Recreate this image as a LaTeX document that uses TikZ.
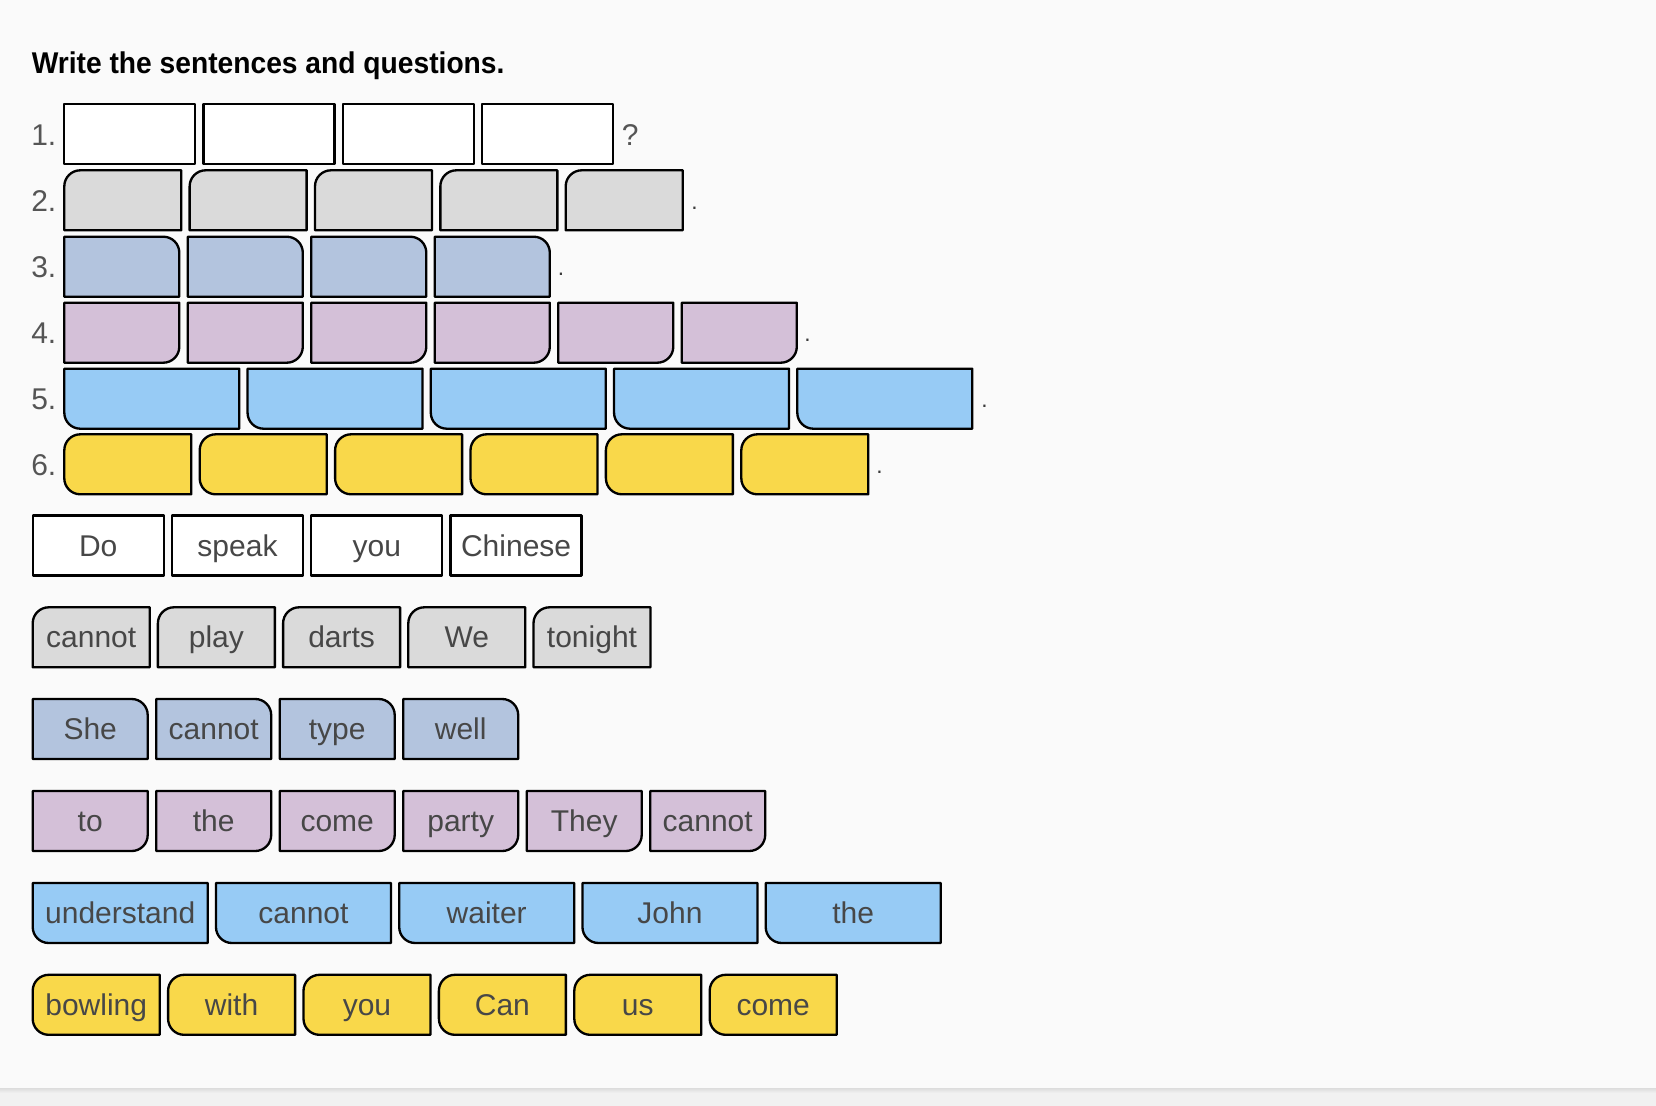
\documentclass[tikz,border=0pt]{standalone}
\usepackage{fontspec}
\setmainfont{Liberation Sans}
\newfontfamily\titlefont[FakeStretch=0.94]{Liberation Sans}
\definecolor{pagebg}{HTML}{FAFAFA}
\definecolor{bandc}{HTML}{F1F1F1}
\definecolor{bandtop}{HTML}{DCDCDC}
\definecolor{grayc}{HTML}{DADADA}
\definecolor{steelc}{HTML}{B3C4DE}
\definecolor{thistlec}{HTML}{D4C0D8}
\definecolor{skyc}{HTML}{97CBF5}
\definecolor{yellowc}{HTML}{F9D84A}
\definecolor{wordc}{HTML}{474747}
\definecolor{labelc}{HTML}{555555}
\definecolor{dotc}{HTML}{3A3A3A}
\tikzset{
  tileline/.style={draw=black, line width=1.75pt, line join=round},
  tiletext/.style={inner sep=0pt, text height=30.5pt, text depth=14.5pt,
    minimum height=45pt, font=\fontsize{22.5pt}{27pt}\selectfont, text=wordc, anchor=center},
  rowlabel/.style={inner sep=0pt, anchor=base west, font=\fontsize{22.5pt}{27pt}\selectfont, text=labelc},
  enddot/.style={inner sep=0pt, anchor=base west, font=\fontsize{17pt}{20pt}\selectfont, text=dotc},
  titletext/.style={inner sep=0pt, anchor=base west, font=\titlefont\bfseries\fontsize{22.5pt}{27pt}\selectfont, text=black}
}
% shapes: #1 left, #2 top, #3 width, #4 fill (pixel units, y down)
\newcommand\shapeSQ[4]{\path[tileline, fill=#4] (#1,#2) rectangle ({#1+#3},{#2+60});}
\newcommand\shapeTL[4]{\path[tileline, fill=#4] (#1,{#2+60}) -- (#1,{#2+16})
  arc[start angle=180, end angle=90, radius=12pt] -- ({#1+#3},#2) -- ({#1+#3},{#2+60}) -- cycle;}
\newcommand\shapeTR[4]{\path[tileline, fill=#4] (#1,{#2+60}) -- (#1,#2) -- ({#1+#3-16},#2)
  arc[start angle=90, end angle=0, radius=12pt] -- ({#1+#3},{#2+60}) -- cycle;}
\newcommand\shapeBR[4]{\path[tileline, fill=#4] (#1,#2) -- ({#1+#3},#2) -- ({#1+#3},{#2+44})
  arc[start angle=0, end angle=-90, radius=12pt] -- (#1,{#2+60}) -- cycle;}
\newcommand\shapeBL[4]{\path[tileline, fill=#4] (#1,#2) -- ({#1+#3},#2) -- ({#1+#3},{#2+60}) -- ({#1+16},{#2+60})
  arc[start angle=270, end angle=180, radius=12pt] -- cycle;}
\newcommand\shapeLT[4]{\path[tileline, fill=#4] ({#1+#3},#2) -- ({#1+#3},{#2+60}) -- ({#1+16},{#2+60})
  arc[start angle=270, end angle=180, radius=12pt] -- (#1,{#2+16})
  arc[start angle=180, end angle=90, radius=12pt] -- cycle;}
% tile: #1 name, #2 shape macro, #3 left, #4 top, #5 width, #6 fill, #7 text
\newcommand\tile[7]{#2{#3}{#4}{#5}{#6}
  \node[tiletext, minimum width={#5*0.75pt}] (#1) at ({#3+#5/2},{#4+30}) {#7};}
\begin{document}
\begin{tikzpicture}[x=0.75pt, y=-0.75pt]
\useasboundingbox (0,0) rectangle (1656,1106);
\fill[pagebg] (0,0) rectangle (1656,1106);
\fill[bandc] (0,1092) rectangle (1656,1106);
\shade[top color=bandtop, bottom color=bandc] (0,1088) rectangle (1656,1093);
% title
\node[titletext] (title) at (31.5,73.3) {Write the sentences and questions.};
% answer rows
\node[rowlabel] (l1) at (31,145) {1.};
\node[rowlabel] (l2) at (31,211) {2.};
\node[rowlabel] (l3) at (31,277.4) {3.};
\node[rowlabel] (l4) at (31,343.4) {4.};
\node[rowlabel] (l5) at (31,409.4) {5.};
\node[rowlabel] (l6) at (31,475) {6.};
\foreach \i in {0,...,3} {\tile{a1-\i}{\shapeSQ}{64.3+\i*139.3}{104.3}{131}{white}{}}
\foreach \i in {0,...,4} {\tile{a2-\i}{\shapeTL}{64.3+\i*125.35}{170.3}{117}{grayc}{}}
\foreach \i in {0,...,3} {\tile{a3-\i}{\shapeTR}{64.3+\i*123.5}{236.7}{115}{steelc}{}}
\foreach \i in {0,...,5} {\tile{a4-\i}{\shapeBR}{64.3+\i*123.5}{302.7}{115}{thistlec}{}}
\foreach \i in {0,...,4} {\tile{a5-\i}{\shapeBL}{64.3+\i*183.25}{368.7}{175}{skyc}{}}
\foreach \i in {0,...,5} {\tile{a6-\i}{\shapeLT}{64.3+\i*135.4}{434.3}{127}{yellowc}{}}
\node[rowlabel] (q1) at (621.5,145) {?};
\node[enddot] (d2) at (691.2,209.3) {.};
\node[enddot] (d3) at (557.6,275.3) {.};
\node[enddot] (d4) at (804.2,341.3) {.};
\node[enddot] (d5) at (981.2,407.3) {.};
\node[enddot] (d6) at (876.2,473.8) {.};
% word tiles
\foreach \w [count=\i from 0] in {Do,speak,you,Chinese}
  {\tile{wA-\i}{\shapeSQ}{32.7+\i*139.3}{515.4}{131}{white}{\w}}
\foreach \w [count=\i from 0] in {cannot,play,darts,We,tonight}
  {\tile{wB-\i}{\shapeTL}{32.7+\i*125.2}{607.3}{117}{grayc}{\w}}
\foreach \w [count=\i from 0] in {She,cannot,type,well}
  {\tile{wC-\i}{\shapeTR}{32.7+\i*123.5}{699}{115}{steelc}{\w}}
\foreach \w [count=\i from 0] in {to,the,come,party,They,cannot}
  {\tile{wD-\i}{\shapeBR}{32.7+\i*123.5}{791}{115}{thistlec}{\w}}
\foreach \w [count=\i from 0] in {understand,cannot,waiter,John,the}
  {\tile{wE-\i}{\shapeBL}{32.7+\i*183.25}{883}{175}{skyc}{\w}}
\foreach \w [count=\i from 0] in {bowling,with,you,Can,us,come}
  {\tile{wF-\i}{\shapeLT}{32.7+\i*135.4}{974.8}{127}{yellowc}{\w}}
\end{tikzpicture}
\end{document}
